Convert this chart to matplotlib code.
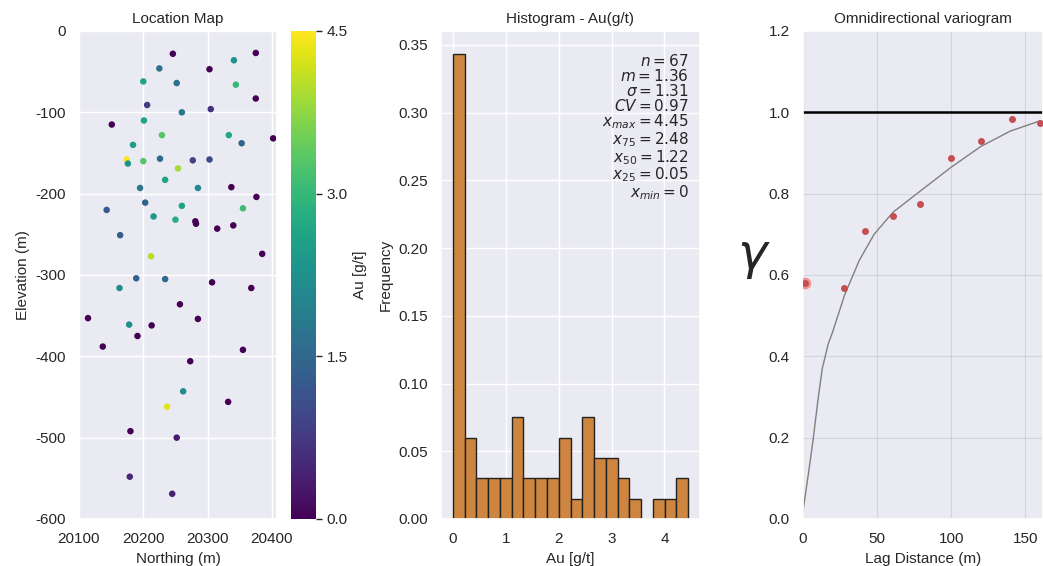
import numpy as np
import matplotlib
matplotlib.use('Agg')
import matplotlib.pyplot as plt
import seaborn as sns

sns.set_theme(style='darkgrid')
plt.rcParams['font.family'] = ['Liberation Sans', 'DejaVu Sans']
plt.rcParams['axes.unicode_minus'] = False

# location map samples (northing, elevation, Au)
north = [20246, 20375, 20341, 20225, 20303, 20200, 20252, 20344, 20375, 20206,
         20260, 20305, 20151, 20201, 20229, 20333, 20402, 20184, 20353, 20174,
         20176, 20200, 20226, 20277, 20303, 20254, 20234, 20195, 20285, 20337,
         20376, 20203, 20143, 20260, 20355, 20216, 20250, 20281, 20282, 20315,
         20340, 20164, 20385, 20212, 20189, 20234, 20163, 20307, 20368, 20257,
         20114, 20285, 20178, 20213, 20191, 20137, 20355, 20273, 20262, 20237,
         20332, 20180, 20252, 20179, 20245]
elev = [-28, -27, -36, -46, -47, -62, -64, -66, -83, -91,
        -100, -96, -115, -110, -128, -128, -132, -140, -138, -158,
        -163, -160, -157, -159, -158, -169, -183, -193, -193, -192,
        -204, -211, -220, -215, -218, -228, -232, -234, -237, -243,
        -239, -251, -274, -277, -304, -305, -316, -309, -316, -336,
        -353, -354, -361, -362, -375, -388, -392, -406, -443, -462,
        -456, -492, -500, -548, -569]
au = [0.0, 0.0, 2.3, 1.7, 0.0, 2.6, 1.7, 3.0, 0.0, 0.8,
      1.8, 0.6, 0.0, 2.6, 3.3, 2.7, 0.0, 2.5, 1.4, 4.45,
      2.3, 3.3, 1.5, 0.9, 1.0, 3.9, 2.6, 1.8, 2.1, 0.0,
      0.0, 1.4, 1.3, 2.6, 3.1, 2.4, 2.8, 0.0, 0.0, 0.0,
      0.0, 1.3, 0.0, 4.0, 1.4, 1.5, 2.2, 0.0, 0.0, 0.0,
      0.0, 0.0, 2.2, 0.0, 0.0, 0.0, 0.0, 0.0, 2.2, 4.3,
      0.0, 0.0, 0.3, 0.5, 0.4]

# histogram (20 bins from 0 to 4.45), relative frequency
hist_freq = [0.343, 0.060, 0.030, 0.030, 0.030, 0.075, 0.030, 0.030, 0.030, 0.060,
             0.015, 0.075, 0.045, 0.045, 0.030, 0.015, 0.000, 0.015, 0.015, 0.030]
hist_min, hist_max = 0.0, 4.45
stats = [r'$n = 67$', r'$m = 1.36$', r'$\sigma = 1.31$', r'$CV = 0.97$',
         r'$x_{max} = 4.45$', r'$x_{75} = 2.48$', r'$x_{50} = 1.22$',
         r'$x_{25} = 0.05$', r'$x_{min} = 0$']

# experimental variogram
lag = [28, 42, 61, 79, 100, 120, 141, 160]
gam = [0.569, 0.707, 0.745, 0.774, 0.887, 0.929, 0.984, 0.975]
lag0, gam0 = 1.5, 0.58
# fitted model
model_h = [0, 4, 7, 10, 13, 17, 20, 28, 38, 48, 55, 61, 79, 100, 120, 140, 160]
model_g = [0.02, 0.12, 0.20, 0.29, 0.37, 0.43, 0.46, 0.55, 0.636, 0.70, 0.73,
           0.755, 0.806, 0.865, 0.916, 0.954, 0.979]
sill = 1.0

W, H = 1043, 566
fig = plt.figure(figsize=(W / 100, H / 100), dpi=100)

def box(l, r, t, b):
    return [l / W, 1 - b / H, (r - l) / W, (b - t) / H]

fs = 11

# Location map
ax1 = fig.add_axes(box(79, 277, 31, 519))
sc = ax1.scatter(north, elev, c=au, cmap='viridis', vmin=0, vmax=4.5, s=22, linewidths=0)
ax1.set_xlim(20100, 20408)
ax1.set_ylim(-600, 0)
ax1.set_xticks([20100, 20200, 20300, 20400])
ax1.set_title('Location Map', fontsize=fs)
ax1.set_xlabel('Northing (m)', fontsize=fs)
ax1.set_ylabel('Elevation (m)', fontsize=fs)
ax1.tick_params(labelsize=fs)

cax = fig.add_axes(box(291, 316, 31, 519))
cb = fig.colorbar(sc, cax=cax, ticks=[0.0, 1.5, 3.0, 4.5])
cb.set_label('Au [g/t]', fontsize=fs)
cb.outline.set_visible(False)
cax.tick_params(labelsize=fs, length=4, width=1, color='#262626', direction='out', right=True)

# Histogram
ax2 = fig.add_axes(box(441, 700, 31, 519))
edges = np.linspace(hist_min, hist_max, len(hist_freq) + 1)
ax2.bar(edges[:-1], hist_freq, width=np.diff(edges), align='edge',
        color='#CD853F', edgecolor='#222222', linewidth=1)
ax2.set_title('Histogram - Au(g/t)', fontsize=fs)
ax2.set_xlabel('Au [g/t]', fontsize=fs)
ax2.set_ylabel('Frequency', fontsize=fs)
ax2.tick_params(labelsize=fs)
ax2.text(0.957, 0.955, '\n'.join(stats), transform=ax2.transAxes, ha='right', va='top',
         fontsize=11, color='#262626', linespacing=0.92)

# Variogram
ax3 = fig.add_axes(box(803, 1043, 31, 519))
ax3.grid(color='gray', alpha=0.2, linewidth=0.8)
ax3.plot(model_h, model_g, color='gray', linewidth=1)
ax3.axhline(sill, color='black', linewidth=1.8)
ax3.scatter([lag0], [gam0], s=70, color='#F25C54', alpha=0.6, linewidths=0, zorder=3)
ax3.scatter([lag0], [gam0], s=25, color='#C44E52', linewidths=0, zorder=3)
ax3.scatter(lag, gam, s=25, color='#C44E52', linewidths=0, zorder=3)
ax3.set_xlim(0, 162)
ax3.set_ylim(0, 1.2)
ax3.set_title('Omnidirectional variogram', fontsize=fs)
ax3.set_xlabel('Lag Distance (m)', fontsize=fs)
ax3.set_ylabel(r'$\gamma$', fontsize=36, rotation=0, ha='center', va='center')
ax3.yaxis.set_label_coords(-0.205, 0.535)
ax3.tick_params(labelsize=fs)

fig.savefig('out.png', dpi=100)
